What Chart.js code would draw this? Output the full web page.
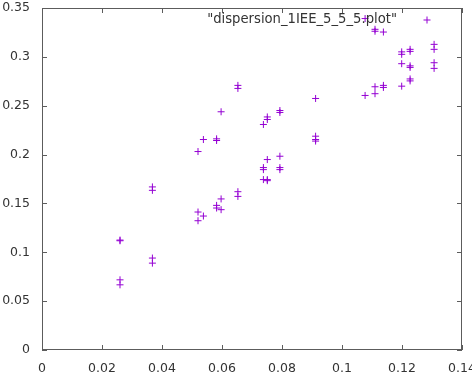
<!DOCTYPE html>
<html>
<head>
<meta charset="utf-8">
<script src="https://cdn.jsdelivr.net/npm/chart.js@4/dist/chart.umd.min.js"></script>
<style>
  body { margin: 0; background: #fff; }
</style>
</head>
<body>
<canvas id="plot" width="472" height="381"></canvas>
<script>
const seriesLabel = '"dispersion_1IEE_5_5_5.plot"';

// x and y, point by point
const xs = [
  0,
  0.026, 0.026, 0.026, 0.026,
  0.0368, 0.0368, 0.0368, 0.0368,
  0.052, 0.052, 0.052,
  0.0538, 0.0538,
  0.0582, 0.0582, 0.0582, 0.0582,
  0.0597, 0.0597, 0.0597,
  0.0653, 0.0653, 0.0653, 0.0653,
  0.0738, 0.0738, 0.0738, 0.0738,
  0.0751, 0.0751, 0.0751, 0.0751, 0.0751,
  0.0793, 0.0793, 0.0793, 0.0793, 0.0793,
  0.0912, 0.0912, 0.0912, 0.0912,
  0.1077, 0.1077,
  0.111, 0.111, 0.111, 0.111,
  0.1138, 0.1138, 0.1138,
  0.1199, 0.1199, 0.1199, 0.1199,
  0.1227, 0.1227, 0.1227, 0.1227, 0.1227, 0.1227,
  0.1307, 0.1307, 0.1307, 0.1307
];
const ys = [
  0,
  0.1125, 0.1118, 0.0718, 0.0667,
  0.1669, 0.1634, 0.0941, 0.0889,
  0.2031, 0.1412, 0.1323,
  0.2154, 0.1371,
  0.2161, 0.2144, 0.148, 0.1453,
  0.2438, 0.1546, 0.1436,
  0.2708, 0.2677, 0.162, 0.1572,
  0.2308, 0.1867, 0.1846, 0.1744,
  0.2385, 0.2359, 0.1949, 0.1744, 0.1733,
  0.2451, 0.2431, 0.1983, 0.1867, 0.1846,
  0.2574, 0.2188, 0.2154, 0.2138,
  0.3392, 0.2605,
  0.3282, 0.3262, 0.2694, 0.2623,
  0.3254, 0.2708, 0.2687,
  0.3051, 0.3026, 0.293, 0.27,
  0.3077, 0.3056, 0.2908, 0.2892, 0.2774, 0.2754,
  0.3128, 0.3077, 0.294, 0.2882
];

const xMax = 0.14, xStep = 0.02;
const yMax = 0.35, yStep = 0.05;

const purple = '#9400d3';
const frameColor = '#5c5c5c';
const textColor = '#333333';
const font = { family: 'DejaVu Sans', size: 12.5 };
const keyFontSize = 13.2;

const points = xs.map((x, i) => ({ x: x, y: ys[i] }));

const fmt = (v) => String(+v.toFixed(3));

// gnuplot-like frame: border, inward ticks on all four sides, key at top right
const gnuplotFrame = {
  id: 'gnuplotFrame',
  afterDatasetsDraw(chart) {
    const { ctx, chartArea: a, scales: { x, y } } = chart;
    const tl = 5;
    ctx.save();
    ctx.strokeStyle = frameColor;
    ctx.lineWidth = 1;
    ctx.beginPath();
    for (const t of x.ticks) {
      const px = Math.round(x.getPixelForValue(t.value)) + 0.5;
      ctx.moveTo(px, a.bottom); ctx.lineTo(px, a.bottom - tl);
      ctx.moveTo(px, a.top); ctx.lineTo(px, a.top + tl);
    }
    for (const t of y.ticks) {
      const py = Math.round(y.getPixelForValue(t.value)) + 0.5;
      ctx.moveTo(a.left, py); ctx.lineTo(a.left + tl, py);
      ctx.moveTo(a.right, py); ctx.lineTo(a.right - tl, py);
    }
    ctx.stroke();
    ctx.strokeRect(Math.round(a.left) + 0.5, Math.round(a.top) + 0.5,
      Math.round(a.width) - 1, Math.round(a.height) - 1);

    // key
    const ky = a.top + 12;
    ctx.fillStyle = textColor;
    ctx.font = keyFontSize + 'px ' + font.family;
    ctx.textAlign = 'right';
    ctx.textBaseline = 'middle';
    ctx.fillText(chart.data.datasets[0].label, a.right - 65, ky);
    const kx = a.right - 35;
    ctx.strokeStyle = purple;
    ctx.beginPath();
    ctx.moveTo(kx - 3.5, ky); ctx.lineTo(kx + 3.5, ky);
    ctx.moveTo(kx, ky - 3.5); ctx.lineTo(kx, ky + 3.5);
    ctx.stroke();
    ctx.restore();
  }
};

const noPad = (scale) => {
  scale.paddingLeft = 0; scale.paddingRight = 0;
  scale.paddingTop = 0; scale.paddingBottom = 0;
};

new Chart(document.getElementById('plot'), {
  type: 'scatter',
  data: {
    datasets: [{
      label: seriesLabel,
      data: points,
      pointStyle: 'cross',
      pointRadius: 3.5,
      pointHoverRadius: 3.5,
      pointBorderWidth: 1,
      pointHoverBorderWidth: 1,
      borderColor: purple,
      backgroundColor: purple,
      pointBorderColor: purple,
      pointBackgroundColor: purple,
      pointHoverBorderColor: purple,
      pointHoverBackgroundColor: purple,
      clip: 0
    }]
  },
  options: {
    responsive: false,
    animation: false,
    events: [],
    layout: { padding: { left: 0, top: 8, right: 10, bottom: 0 } },
    plugins: { legend: { display: false }, tooltip: { enabled: false } },
    scales: {
      x: {
        type: 'linear',
        min: 0, max: xMax,
        grid: { display: false, drawTicks: false },
        border: { display: false },
        ticks: { stepSize: xStep, color: textColor, font: font, padding: 11, maxRotation: 0, autoSkip: false, callback: fmt },
        afterFit(scale) { scale.height = 31; noPad(scale); }
      },
      y: {
        type: 'linear',
        min: 0, max: yMax,
        grid: { display: false, drawTicks: false },
        border: { display: false },
        ticks: { stepSize: yStep, color: textColor, font: font, padding: 12, autoSkip: false, callback: fmt },
        afterFit(scale) { scale.width = 42; noPad(scale); }
      }
    }
  },
  plugins: [gnuplotFrame]
});
</script>
</body>
</html>
